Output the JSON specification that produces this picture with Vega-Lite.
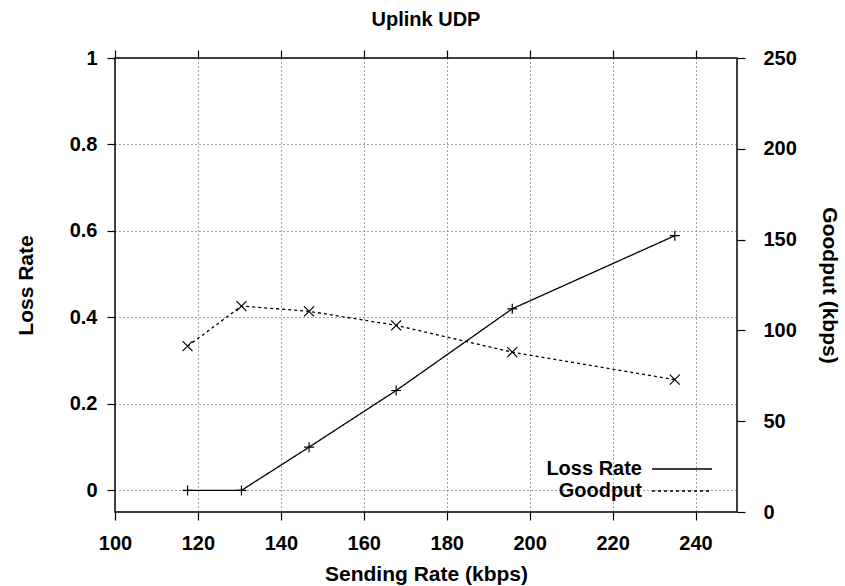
{
  "$schema": "https://vega.github.io/schema/vega-lite/v6.json",
  "width": 622,
  "height": 454,
  "autosize": "none",
  "padding": {"left": 115, "top": 58, "right": 108, "bottom": 74},
  "background": "white",
  "title": {
    "text": "Uplink UDP",
    "anchor": "middle",
    "font": "Liberation Sans",
    "fontSize": 20,
    "fontWeight": "bold",
    "color": "black",
    "offset": 18
  },
  "config": {
    "view": {"stroke": "black", "strokeWidth": 1.5},
    "axis": {
      "labelFont": "Liberation Sans",
      "labelFontSize": 20,
      "labelFontWeight": "bold",
      "labelColor": "black",
      "labelFlush": false,
      "titleFont": "Liberation Sans",
      "titleFontSize": 21,
      "titleFontWeight": "bold",
      "titleColor": "black",
      "tickColor": "black",
      "tickSize": 8,
      "tickWidth": 1.2,
      "domain": false,
      "grid": false
    },
    "legend": {
      "labelFont": "Liberation Sans",
      "labelFontSize": 20,
      "labelFontWeight": "bold",
      "labelColor": "black"
    }
  },
  "data": {
    "values": [
      {"rate": 117.5, "loss": 0.0, "goodput": 91.3},
      {"rate": 130.5, "loss": 0.0, "goodput": 113.4},
      {"rate": 146.8, "loss": 0.1, "goodput": 110.5},
      {"rate": 167.8, "loss": 0.231, "goodput": 102.8},
      {"rate": 195.8, "loss": 0.42, "goodput": 88.0},
      {"rate": 235.0, "loss": 0.589, "goodput": 72.9}
    ]
  },
  "layer": [
    {
      "encoding": {
        "x": {
          "field": "rate",
          "type": "quantitative",
          "scale": {"domain": [100, 250], "nice": false, "zero": false},
          "axis": {
            "orient": "bottom",
            "title": "Sending Rate (kbps)",
            "values": [100, 120, 140, 160, 180, 200, 220, 240],
            "labelPadding": 13,
            "titlePadding": 10,
            "grid": true,
            "gridColor": "#444",
            "gridDash": [1, 3],
            "gridWidth": 1
          }
        },
        "y": {
          "field": "loss",
          "type": "quantitative",
          "scale": {"domain": [-0.05, 1], "nice": false, "zero": false},
          "axis": {
            "orient": "left",
            "title": "Loss Rate",
            "format": "~g",
            "values": [0, 0.2, 0.4, 0.6, 0.8, 1],
            "labelPadding": 10,
            "titlePadding": 33,
            "grid": true,
            "gridColor": "#444",
            "gridDash": [1, 3],
            "gridWidth": 1
          }
        }
      },
      "layer": [
        {
          "mark": {"type": "line", "color": "black", "strokeWidth": 1.3},
          "encoding": {
            "strokeDash": {
              "datum": "Loss Rate",
              "type": "nominal",
              "scale": {"domain": ["Loss Rate", "Goodput"], "range": [[1, 0], [3, 3]]},
              "legend": {
                "title": null,
                "orient": "none",
                "legendX": 557,
                "legendY": 401,
                "symbolType": "M-6,0H6",
                "symbolSize": 100,
                "symbolStrokeColor": "black",
                "symbolStrokeWidth": 1.3,
                "labelAlign": "right",
                "labelOffset": -50,
                "rowPadding": 2
              }
            }
          }
        },
        {
          "mark": {"type": "point", "shape": "M-1,0H1M0,-1V1", "filled": false, "color": "black", "size": 100, "strokeWidth": 1.2, "opacity": 1}
        }
      ]
    },
    {
      "encoding": {
        "x": {
          "field": "rate",
          "type": "quantitative",
          "scale": {"domain": [100, 250], "nice": false, "zero": false},
          "axis": {
            "orient": "top",
            "title": null,
            "labels": true,
            "labelOpacity": 0,
            "labelFontSize": 1,
            "labelPadding": 0,
            "ticks": true,
            "tickSize": 8,
            "tickColor": "black",
            "tickOpacity": 1,
            "domain": false,
            "values": [100, 120, 140, 160, 180, 200, 220, 240]
          }
        },
        "y": {
          "field": "goodput",
          "type": "quantitative",
          "scale": {"domain": [0, 250], "nice": false, "zero": false},
          "axis": {
            "orient": "right",
            "title": "Goodput (kbps)",
            "values": [0, 50, 100, 150, 200, 250],
            "labelPadding": 18,
            "titlePadding": 22
          }
        }
      },
      "layer": [
        {
          "mark": {"type": "line", "color": "black", "strokeWidth": 1.3},
          "encoding": {
            "strokeDash": {"datum": "Goodput", "type": "nominal"}
          }
        },
        {
          "mark": {"type": "point", "shape": "M-1,-1L1,1M-1,1L1,-1", "filled": false, "color": "black", "size": 100, "strokeWidth": 1.2, "opacity": 1}
        }
      ]
    }
  ],
  "resolve": {"scale": {"x": "independent", "y": "independent"}, "axis": {"x": "independent", "y": "independent"}}
}
